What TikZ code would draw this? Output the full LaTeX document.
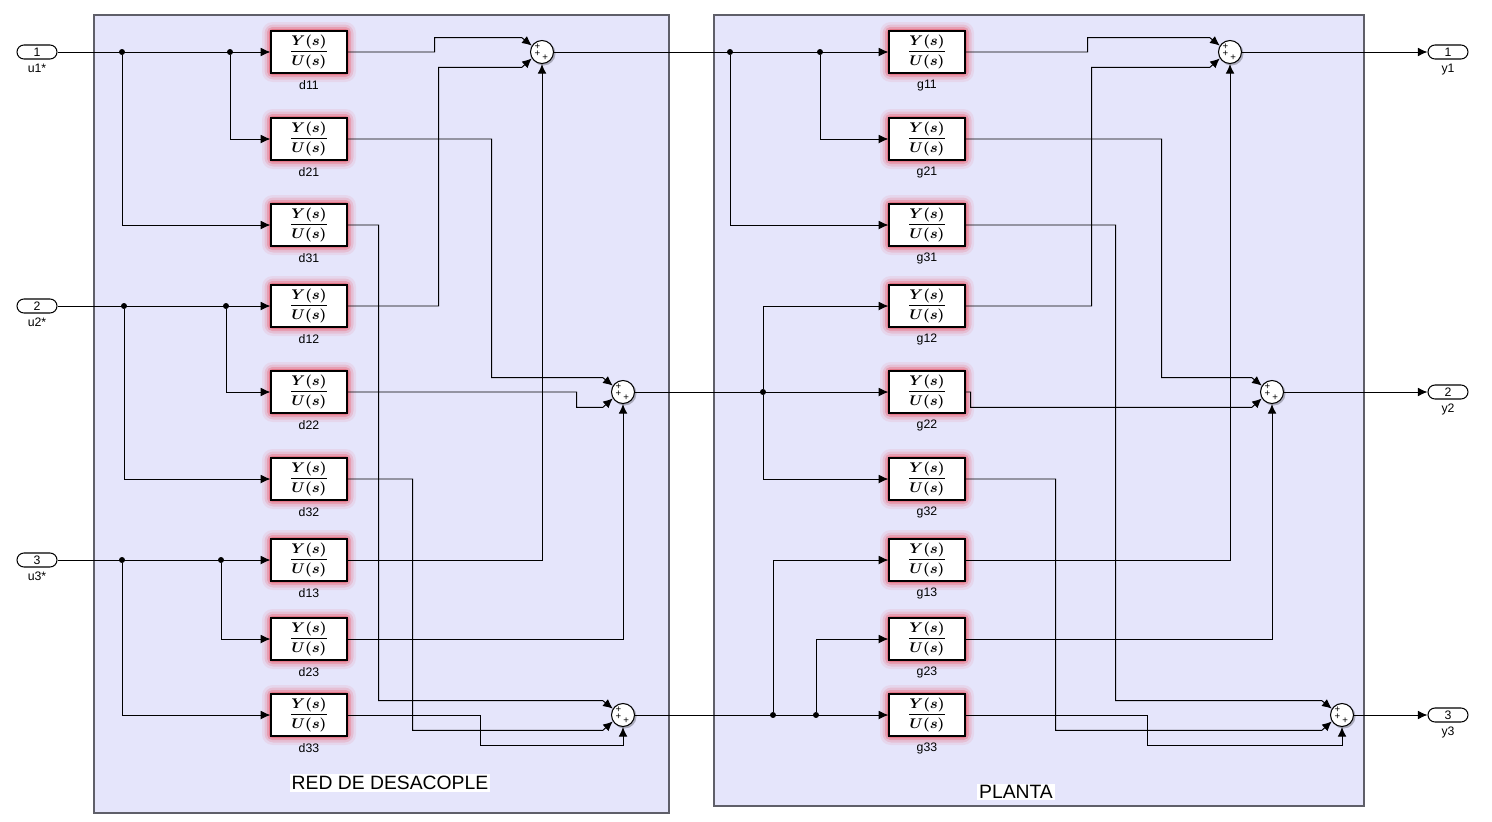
\documentclass[tikz,border=0pt]{standalone}
\usepackage{amsmath}
\usepackage{fontspec}
\setsansfont{Liberation Sans}
\usepackage{tikz}
\usetikzlibrary{positioning}
\usetikzlibrary{calc,shadows,arrows.meta}
\usepackage{xcolor}

\definecolor{panelfill}{RGB}{229,229,251}
\definecolor{panelline}{RGB}{95,95,105}
\definecolor{glowred}{RGB}{235,30,45}

\tikzset{
  panel/.style={draw=panelline, fill=panelfill, line width=0.6pt},
  title/.style={fill=white, inner sep=1pt, font=\sffamily\fontsize{11}{13}\selectfont},
  tfblock/.style={draw=black, fill=white, line width=0.7pt, minimum width=1.52cm, minimum height=0.84cm, inner sep=0pt, font=\fontsize{8}{9}\selectfont},
  sgn/.style={inner sep=0pt, font=\sffamily\fontsize{5.5}{5.5}\selectfont},
  sgnpair/.style={sgn, align=center},
  sumnode/.style={circle, draw=black, fill=white, line width=0.6pt, minimum size=0.46cm, inner sep=0pt},
  port/.style={draw=black, fill=white, line width=0.6pt, rounded corners=0.14cm, minimum width=0.8cm, minimum height=0.28cm, inner sep=0pt, font=\sffamily\fontsize{7}{8}\selectfont},
  lbl/.style={inner sep=0pt, font=\sffamily\fontsize{7}{8}\selectfont},
  wire/.style={draw=black, line width=0.55pt},
  sig/.style={wire, -{Latex[length=5.5pt,width=5pt]}},
  dot/.style={circle, fill=black, inner sep=0pt, minimum size=3.4pt},
}

\newcommand{\tfexpr}{$\displaystyle\frac{\boldsymbol{Y(s)}}{\boldsymbol{U(s)}}$}

\begin{document}
\begin{tikzpicture}[x=0.02cm, y=-0.02cm]
  \fill[white] (0,0) rectangle (1492,822);
  \useasboundingbox (0,0) rectangle (1492,822);

  % subsystem areas
  \draw[panel] (94,15) rectangle (669,813);
  \draw[panel] (714,15) rectangle (1364,806);
  \node[title] (tdesac) at (390,783) {RED DE DESACOPLE};
  \node[title] (tplanta) at (1016,792) {PLANTA};

  % red highlight behind the blocks
  \foreach \xx in {309,927}
    \foreach \yy in {52,139,225,306,392,479,560,639,715} {
      \fill[glowred, opacity=0.07, rounded corners=6] (\xx-47,\yy-30) rectangle (\xx+47,\yy+30);
      \fill[glowred, opacity=0.12, rounded corners=5] (\xx-44.5,\yy-27.5) rectangle (\xx+44.5,\yy+27.5);
      \fill[glowred, opacity=0.2, rounded corners=3] (\xx-42,\yy-25) rectangle (\xx+42,\yy+25);
      \fill[glowred, opacity=0.3, rounded corners=2] (\xx-40,\yy-23) rectangle (\xx+40,\yy+23);
    }

  % ports
  \foreach \i/\yy in {1/52, 2/306, 3/560}
    \node[port, label={[lbl, label distance=2.5pt]below:u\i*}] (in\i) at (37,\yy) {\i};
  \foreach \i/\yy in {1/52, 2/392, 3/715}
    \node[port, label={[lbl, label distance=2.5pt]below:y\i}] (out\i) at (1448,\yy) {\i};

  % transfer functions
  \node[tfblock, label={[lbl, label distance=3.5pt]below:d11}] (d11) at (309,52) {\tfexpr};
  \node[tfblock, label={[lbl, label distance=3.5pt]below:d21}] (d21) at (309,139) {\tfexpr};
  \node[tfblock, label={[lbl, label distance=3.5pt]below:d31}] (d31) at (309,225) {\tfexpr};
  \node[tfblock, label={[lbl, label distance=3.5pt]below:d12}] (d12) at (309,306) {\tfexpr};
  \node[tfblock, label={[lbl, label distance=3.5pt]below:d22}] (d22) at (309,392) {\tfexpr};
  \node[tfblock, label={[lbl, label distance=3.5pt]below:d32}] (d32) at (309,479) {\tfexpr};
  \node[tfblock, label={[lbl, label distance=3.5pt]below:d13}] (d13) at (309,560) {\tfexpr};
  \node[tfblock, label={[lbl, label distance=3.5pt]below:d23}] (d23) at (309,639) {\tfexpr};
  \node[tfblock, label={[lbl, label distance=3.5pt]below:d33}] (d33) at (309,715) {\tfexpr};
  \node[tfblock, label={[lbl, label distance=3.5pt]below:g11}] (g11) at (927,52) {\tfexpr};
  \node[tfblock, label={[lbl, label distance=3.5pt]below:g21}] (g21) at (927,139) {\tfexpr};
  \node[tfblock, label={[lbl, label distance=3.5pt]below:g31}] (g31) at (927,225) {\tfexpr};
  \node[tfblock, label={[lbl, label distance=3.5pt]below:g12}] (g12) at (927,306) {\tfexpr};
  \node[tfblock, label={[lbl, label distance=3.5pt]below:g22}] (g22) at (927,392) {\tfexpr};
  \node[tfblock, label={[lbl, label distance=3.5pt]below:g32}] (g32) at (927,479) {\tfexpr};
  \node[tfblock, label={[lbl, label distance=3.5pt]below:g13}] (g13) at (927,560) {\tfexpr};
  \node[tfblock, label={[lbl, label distance=3.5pt]below:g23}] (g23) at (927,639) {\tfexpr};
  \node[tfblock, label={[lbl, label distance=3.5pt]below:g33}] (g33) at (927,715) {\tfexpr};

  % sums
  \foreach \s/\xx/\yy in {ds1/542/52, ds2/623/392, ds3/623/715, gs1/1230/52, gs2/1272/392, gs3/1342/715} {
    \fill[black, opacity=0.25] (\xx+1.5,\yy+1.5) circle (12);
    \node[sumnode] (\s) at (\xx,\yy) {};
    \node[sgnpair] at (\xx-4.5,\yy-1.5) {+\\[-1.6pt]+};
    \node[sgn] at (\xx+3.2,\yy+6) {+};
  }

  % branch points
  \node[dot] (a1) at (122,52) {};
  \node[dot] (a2) at (230,52) {};
  \node[dot] (b1) at (124,306) {};
  \node[dot] (b2) at (226,306) {};
  \node[dot] (c1) at (122,560) {};
  \node[dot] (c2) at (221,560) {};
  \node[dot] (e1) at (730,52) {};
  \node[dot] (e2) at (820,52) {};
  \node[dot] (f1) at (763,392) {};
  \node[dot] (h1) at (773,715) {};
  \node[dot] (h2) at (816,715) {};

  % inputs of the decoupler
  \draw[sig] (in1) -- (d11);
  \draw[sig] (a2) |- (d21);
  \draw[sig] (a1) |- (d31);
  \draw[sig] (in2) -- (d12);
  \draw[sig] (b2) |- (d22);
  \draw[sig] (b1) |- (d32);
  \draw[sig] (in3) -- (d13);
  \draw[sig] (c2) |- (d23);
  \draw[sig] (c1) |- (d33);

  % decoupler to sums
  \draw[sig] (d11.east) -- ++(87,0) |- ($(ds1.148)+(-10,-8)$) -- (ds1.148);
  \draw[sig] (d12.east) -- ++(91,0) |- ($(ds1.212)+(-10,9)$) -- (ds1.212);
  \draw[sig] (d13.east) -| (ds1.south);
  \draw[sig] (d21.east) -- ++(144,0) |- ($(ds2.148)+(-10,-8)$) -- (ds2.148);
  \draw[sig] (d22.east) -- ++(229,0) |- ($(ds2.212)+(-10,9)$) -- (ds2.212);
  \draw[sig] (d23.east) -| (ds2.south);
  \draw[sig] (d31.east) -- ++(31,0) |- ($(ds3.148)+(-10,-8)$) -- (ds3.148);
  \draw[sig] (d32.east) -- ++(65,0) |- ($(ds3.212)+(-10,9)$) -- (ds3.212);
  \draw[sig] (d33.east) -- ++(133,0) -- ++(0,30) -| (ds3.south);

  % decoupler outputs into the plant
  \draw[sig] (ds1) -- (g11);
  \draw[sig] (e2) |- (g21);
  \draw[sig] (e1) |- (g31);
  \draw[sig] (ds2) -- (g22);
  \draw[sig] (f1) |- (g12);
  \draw[sig] (f1) |- (g32);
  \draw[sig] (ds3) -- (g33);
  \draw[sig] (h1) |- (g13);
  \draw[sig] (h2) |- (g23);

  % plant to sums
  \draw[sig] (g11.east) -- ++(122,0) |- ($(gs1.148)+(-10,-8)$) -- (gs1.148);
  \draw[sig] (g12.east) -- ++(126,0) |- ($(gs1.212)+(-10,9)$) -- (gs1.212);
  \draw[sig] (g13.east) -| (gs1.south);
  \draw[sig] (g21.east) -- ++(196,0) |- ($(gs2.148)+(-10,-8)$) -- (gs2.148);
  \draw[sig] (g22.east) -- ++(5,0) |- ($(gs2.212)+(-10,9)$) -- (gs2.212);
  \draw[sig] (g23.east) -| (gs2.south);
  \draw[sig] (g31.east) -- ++(150,0) |- ($(gs3.148)+(-10,-8)$) -- (gs3.148);
  \draw[sig] (g32.east) -- ++(90,0) |- ($(gs3.212)+(-10,9)$) -- (gs3.212);
  \draw[sig] (g33.east) -- ++(182,0) -- ++(0,30) -| (gs3.south);

  % outputs
  \draw[sig] (gs1) -- (out1);
  \draw[sig] (gs2) -- (out2);
  \draw[sig] (gs3) -- (out3);
\end{tikzpicture}
\end{document}
